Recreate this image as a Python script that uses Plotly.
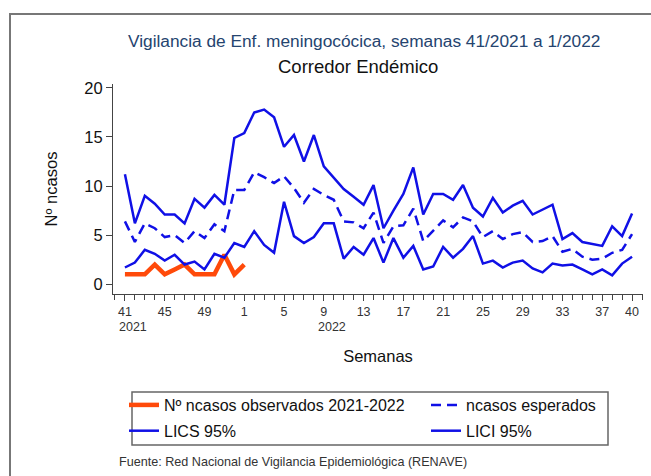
import plotly.graph_objects as go

weeks = [41, 42, 43, 44, 45, 46, 47, 48, 49, 50, 51, 52] + list(range(1, 41))

lics = [11.2, 6.2, 9.0, 8.2, 7.1, 7.1, 6.2, 8.7, 7.8, 9.1, 8.1, 14.9,
        15.4, 17.5, 17.8, 17.0, 14.0, 15.2, 12.5, 15.2, 12.0, 10.9, 9.7, 8.9, 8.1, 10.1,
        5.7, 7.5, 9.2, 11.9, 7.1, 9.2, 9.2, 8.6, 10.1, 7.8, 6.9, 8.8, 7.3, 8.0,
        8.5, 7.1, 7.6, 8.1, 4.6, 5.2, 4.3, 4.1, 3.9, 5.9, 4.9, 7.2]

esperados = [6.4, 4.3, 6.2, 5.7, 4.8, 5.0, 4.2, 5.4, 4.7, 6.1, 5.4, 9.6,
             9.6, 11.4, 10.9, 10.3, 11.0, 9.8, 8.3, 9.7, 9.1, 8.6, 6.4, 6.3, 5.7, 7.3,
             4.2, 5.9, 6.0, 7.7, 4.4, 5.5, 6.5, 5.8, 6.8, 6.4, 4.8, 5.4, 4.6, 5.1,
             5.3, 4.3, 4.4, 4.9, 3.3, 3.6, 2.8, 2.5, 2.6, 3.2, 3.5, 5.1]

lici = [1.7, 2.2, 3.5, 3.1, 2.4, 3.0, 2.0, 2.3, 1.5, 3.1, 2.7, 4.2,
        3.8, 5.4, 4.0, 3.2, 8.4, 4.9, 4.2, 4.8, 6.2, 6.2, 2.6, 3.8, 3.0, 4.7,
        2.2, 4.7, 2.7, 3.9, 1.5, 1.8, 3.8, 2.7, 3.6, 4.9, 2.1, 2.4, 1.7, 2.2,
        2.4, 1.6, 1.2, 2.1, 1.9, 2.0, 1.5, 1.0, 1.5, 0.9, 2.1, 2.8]

observados = [1, 1, 1, 2, 1, 1.5, 2, 1, 1, 1, 3, 1, 2]

tick_labels = [41, 45, 49, 1, 5, 9, 13, 17, 21, 25, 29, 33, 37, 40]
year_labels = ["2021", "2022"]
year_weeks = [41, 9]

idx = list(range(len(weeks)))
tick_idx = []
for k, w in enumerate(tick_labels):
    start = 0 if k < 3 else 12
    tick_idx.append(weeks.index(w, start))
year_idx = [weeks.index(year_weeks[0]), weeks.index(year_weeks[1], 12)]

BLUE = "#1010e6"
ORANGE = "#ff4a0a"

fig = go.Figure()
fig.add_trace(go.Scatter(x=idx[:len(observados)], y=observados, mode="lines",
                         name="Nº ncasos observados 2021-2022", legend="legend",
                         legendgroup="a", line=dict(color=ORANGE, width=4.5)))
fig.add_trace(go.Scatter(x=idx, y=esperados, mode="lines", name="ncasos esperados",
                         legend="legend2", legendgroup="b",
                         line=dict(color=BLUE, width=2.5, dash="10px,6px")))
fig.add_trace(go.Scatter(x=idx, y=lics, mode="lines", name="LICS 95%", legend="legend",
                         legendgroup="c", line=dict(color=BLUE, width=2.5)))
fig.add_trace(go.Scatter(x=idx, y=lici, mode="lines", name="LICI 95%", legend="legend2",
                         legendgroup="d", line=dict(color=BLUE, width=2.5)))

L, R, T, B = 113, 8, 84, 182
W, H = 651, 476
pw, ph = W - L - R, H - T - B

def px_x(p):
    return (p - L) / pw

def px_y(p):
    return (H - B - p) / ph

leg_common = dict(orientation="v", yanchor="top", xanchor="left",
                  bgcolor="rgba(0,0,0,0)", borderwidth=0,
                  font=dict(size=16, color="#111"), itemwidth=30, tracegroupgap=2)

fig.update_layout(
    width=W, height=H,
    margin=dict(l=L, r=R, t=T, b=B, autoexpand=False),
    paper_bgcolor="white", plot_bgcolor="white",
    font=dict(family="Liberation Sans, Arial, sans-serif", color="#222"),
    showlegend=True,
    legend=dict(x=px_x(124), y=px_y(388), **leg_common),
    legend2=dict(x=px_x(426), y=px_y(388), **leg_common),
    xaxis=dict(range=[-1.2, 52.1], tickmode="array", tickvals=tick_idx,
               ticktext=[str(t) for t in tick_labels], ticks="outside", ticklen=6,
               tickcolor="#444", showline=True, linecolor="#444", linewidth=1,
               showgrid=False, zeroline=False, tickfont=dict(size=12.5, color="#333"),
               minor=dict(dtick=1, tick0=0, ticks="outside", ticklen=5, tickcolor="#444",
                          showgrid=False),
               title=dict(text="Semanas", font=dict(size=16.5, color="#111"), standoff=32)),
    yaxis=dict(range=[-1.0, 20.4], tickvals=[0, 5, 10, 15, 20], ticks="outside", ticklen=6,
               tickcolor="#444", showline=True, linecolor="#444", linewidth=1,
               showgrid=False, zeroline=False, tickfont=dict(size=16.5, color="#111"),
               title=dict(text="Nº ncasos", font=dict(size=16.5, color="#111"), standoff=22)),
)

fig.add_shape(type="rect", xref="paper", yref="paper",
              x0=px_x(132), x1=px_x(608), y0=px_y(445), y1=px_y(392),
              line=dict(color="#666", width=1.5))

for yi, yl in zip(year_idx, year_labels):
    fig.add_annotation(x=yi, y=px_y(327), xref="x", yref="paper", text=yl, showarrow=False,
                       xshift=8, yanchor="middle", font=dict(size=12.5, color="#333"))

fig.add_annotation(x=px_x(364), y=px_y(41), xref="paper", yref="paper", yanchor="middle",
                   xanchor="center",
                   text="Vigilancia de Enf. meningocócica, semanas 41/2021 a 1/2022",
                   showarrow=False, font=dict(size=17.3, color="#25446f"))
fig.add_annotation(x=px_x(358), y=px_y(66), xref="paper", yref="paper", yanchor="middle",
                   xanchor="center", text="Corredor Endémico", showarrow=False,
                   font=dict(size=18.5, color="#111"))
fig.add_annotation(x=px_x(117), y=px_y(462), xref="paper", yref="paper", xanchor="left",
                   yanchor="middle",
                   text="Fuente: Red Nacional de Vigilancia Epidemiológica (RENAVE)",
                   showarrow=False, font=dict(size=12.6, color="#333"))

fig.add_shape(type="rect", xref="paper", yref="paper",
              x0=px_x(10), x1=px_x(700), y0=px_y(14), y1=px_y(520),
              line=dict(color="#777", width=2), layer="below")

fig.write_html("out.html", config={"displayModeBar": False},
               post_script="document.body.style.margin='0';document.body.style.overflow='hidden';")
